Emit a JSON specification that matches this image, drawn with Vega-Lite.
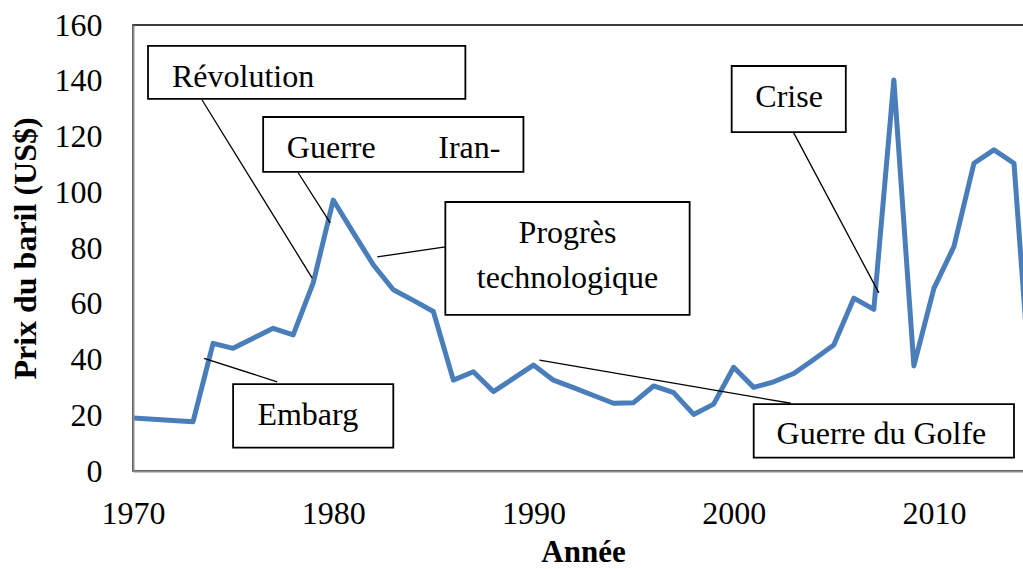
{
  "$schema": "https://vega.github.io/schema/vega-lite/v6.json",
  "width": 891,
  "height": 446,
  "autosize": {"type": "none"},
  "padding": {"left": 133, "top": 25, "right": 0, "bottom": 98},
  "background": "white",
  "config": {
    "view": {"stroke": "#000000", "strokeWidth": 1.5},
    "font": "Liberation Serif"
  },
  "datasets": {
    "prix": [
      {"annee": 1970, "prix": 19.0},
      {"annee": 1973, "prix": 17.7},
      {"annee": 1974, "prix": 45.8},
      {"annee": 1975, "prix": 44.0},
      {"annee": 1976, "prix": 47.6},
      {"annee": 1977, "prix": 51.2},
      {"annee": 1978, "prix": 48.8},
      {"annee": 1979, "prix": 67.5},
      {"annee": 1980, "prix": 97.2},
      {"annee": 1981, "prix": 85.5},
      {"annee": 1982, "prix": 74.0},
      {"annee": 1983, "prix": 65.0},
      {"annee": 1984, "prix": 61.2},
      {"annee": 1985, "prix": 57.2},
      {"annee": 1986, "prix": 32.6},
      {"annee": 1987, "prix": 35.6},
      {"annee": 1988, "prix": 28.5},
      {"annee": 1989, "prix": 33.2},
      {"annee": 1990, "prix": 38.0},
      {"annee": 1991, "prix": 32.6},
      {"annee": 1992, "prix": 29.9},
      {"annee": 1993, "prix": 27.1},
      {"annee": 1994, "prix": 24.3},
      {"annee": 1995, "prix": 24.5},
      {"annee": 1996, "prix": 30.5},
      {"annee": 1997, "prix": 28.1},
      {"annee": 1998, "prix": 20.3},
      {"annee": 1999, "prix": 24.0},
      {"annee": 2000, "prix": 37.2},
      {"annee": 2001, "prix": 30.0},
      {"annee": 2002, "prix": 32.0},
      {"annee": 2003, "prix": 35.0},
      {"annee": 2004, "prix": 40.0},
      {"annee": 2005, "prix": 45.2},
      {"annee": 2006, "prix": 62.0},
      {"annee": 2007, "prix": 58.0},
      {"annee": 2008, "prix": 140.3},
      {"annee": 2009, "prix": 37.7},
      {"annee": 2010, "prix": 65.5},
      {"annee": 2011, "prix": 80.5},
      {"annee": 2012, "prix": 110.4},
      {"annee": 2013, "prix": 115.2},
      {"annee": 2014, "prix": 110.4},
      {"annee": 2015, "prix": 12.0}
    ],
    "boites": [
      {"nom": "Révolution", "x1": 1970.75, "x2": 1986.6, "y1": 152.5, "y2": 133.5},
      {"nom": "Guerre Iran-", "x1": 1976.5, "x2": 1989.5, "y1": 127.0, "y2": 107.3},
      {"nom": "Progrès technologique", "x1": 1985.6, "x2": 1997.8, "y1": 96.5, "y2": 56.0},
      {"nom": "Crise", "x1": 1999.9, "x2": 2005.6, "y1": 145.3, "y2": 121.6},
      {"nom": "Embarg", "x1": 1975.0, "x2": 1983.0, "y1": 31.2, "y2": 8.4},
      {"nom": "Guerre du Golfe", "x1": 2001.0, "x2": 2014.0, "y1": 24.0, "y2": 4.8}
    ],
    "liens": [
      {"nom": "Révolution", "x1": 1973.45, "y1": 133.1, "x2": 1978.95, "y2": 69.2},
      {"nom": "Guerre Iran-", "x1": 1978.25, "y1": 107.0, "x2": 1979.85, "y2": 89.0},
      {"nom": "Progrès technologique", "x1": 1982.2, "y1": 76.8, "x2": 1985.6, "y2": 80.4},
      {"nom": "Crise", "x1": 2003.0, "y1": 121.3, "x2": 2007.25, "y2": 63.9},
      {"nom": "Embarg", "x1": 1973.55, "y1": 40.4, "x2": 1977.2, "y2": 32.0},
      {"nom": "Guerre du Golfe", "x1": 1990.3, "y1": 39.8, "x2": 2002.85, "y2": 24.3}
    ],
    "textes": [
      {"texte": "Révolution", "annee": 1975.5, "valeur": 137.6},
      {"texte": "Guerre", "annee": 1979.9, "valeur": 112.2},
      {"texte": "Iran-", "annee": 1986.8, "valeur": 112.2},
      {"texte": "Progrès", "annee": 1991.7, "valeur": 81.9},
      {"texte": "technologique", "annee": 1991.7, "valeur": 65.5},
      {"texte": "Crise", "annee": 2002.77, "valeur": 130.7},
      {"texte": "Embarg", "annee": 1978.73, "valeur": 16.5},
      {"texte": "Guerre du Golfe", "annee": 2007.38, "valeur": 9.7}
    ]
  },
  "layer": [
    {
      "data": {"name": "prix"},
      "mark": {"type": "line", "color": "#4A7EBB", "strokeWidth": 5, "clip": true, "strokeJoin": "round"},
      "encoding": {
        "x": {
          "field": "annee", "type": "quantitative",
          "scale": {"domain": [1970, 2014.5], "nice": false, "zero": false},
          "axis": {
            "title": "Année",
            "values": [1970, 1980, 1990, 2000, 2010],
            "format": "d",
            "grid": false,
            "ticks": false,
            "domainColor": "#8C8C8C",
            "domainWidth": 2,
            "labelFont": "Liberation Serif",
            "labelFontSize": 32,
            "labelColor": "#000000",
            "labelPadding": 27,
            "labelFlush": false,
            "labelOverlap": false,
            "titleFont": "Liberation Serif",
            "titleFontSize": 31,
            "titleFontWeight": "bold",
            "titleColor": "#000000",
            "titleBaseline": "alphabetic",
            "titleY": 90,
            "titleX": 450,
            "titleAnchor": "start",
            "titleAlign": "center",
            "zindex": 1
          }
        },
        "y": {
          "field": "prix", "type": "quantitative",
          "scale": {"domain": [0, 160], "nice": false},
          "axis": {
            "title": "Prix du baril (US$)",
            "values": [0, 20, 40, 60, 80, 100, 120, 140, 160],
            "grid": false,
            "ticks": false,
            "domainColor": "#8C8C8C",
            "domainWidth": 2,
            "labelFont": "Liberation Serif",
            "labelFontSize": 32,
            "labelColor": "#000000",
            "labelPadding": 31,
            "labelFlush": false,
            "labelOverlap": false,
            "titleFont": "Liberation Serif",
            "titleFontSize": 32,
            "titleFontWeight": "bold",
            "titleColor": "#000000",
            "titleAngle": -90,
            "titleBaseline": "alphabetic",
            "titleAlign": "center",
            "titleX": -98,
            "titleY": 223,
            "zindex": 1
          }
        }
      }
    },
    {
      "data": {"name": "liens"},
      "mark": {"type": "rule", "color": "#000000", "strokeWidth": 1.3},
      "encoding": {
        "x": {"field": "x1", "type": "quantitative"},
        "x2": {"field": "x2"},
        "y": {"field": "y1", "type": "quantitative"},
        "y2": {"field": "y2"}
      }
    },
    {
      "data": {"name": "boites"},
      "mark": {"type": "rect", "fill": "#FFFFFF", "stroke": "#000000", "strokeWidth": 1.8},
      "encoding": {
        "x": {"field": "x1", "type": "quantitative"},
        "x2": {"field": "x2"},
        "y": {"field": "y1", "type": "quantitative"},
        "y2": {"field": "y2"}
      }
    },
    {
      "data": {"name": "textes"},
      "mark": {"type": "text", "font": "Liberation Serif", "fontSize": 32, "color": "#000000", "align": "center", "baseline": "alphabetic"},
      "encoding": {
        "x": {"field": "annee", "type": "quantitative"},
        "y": {"field": "valeur", "type": "quantitative"},
        "text": {"field": "texte"}
      }
    }
  ]
}
